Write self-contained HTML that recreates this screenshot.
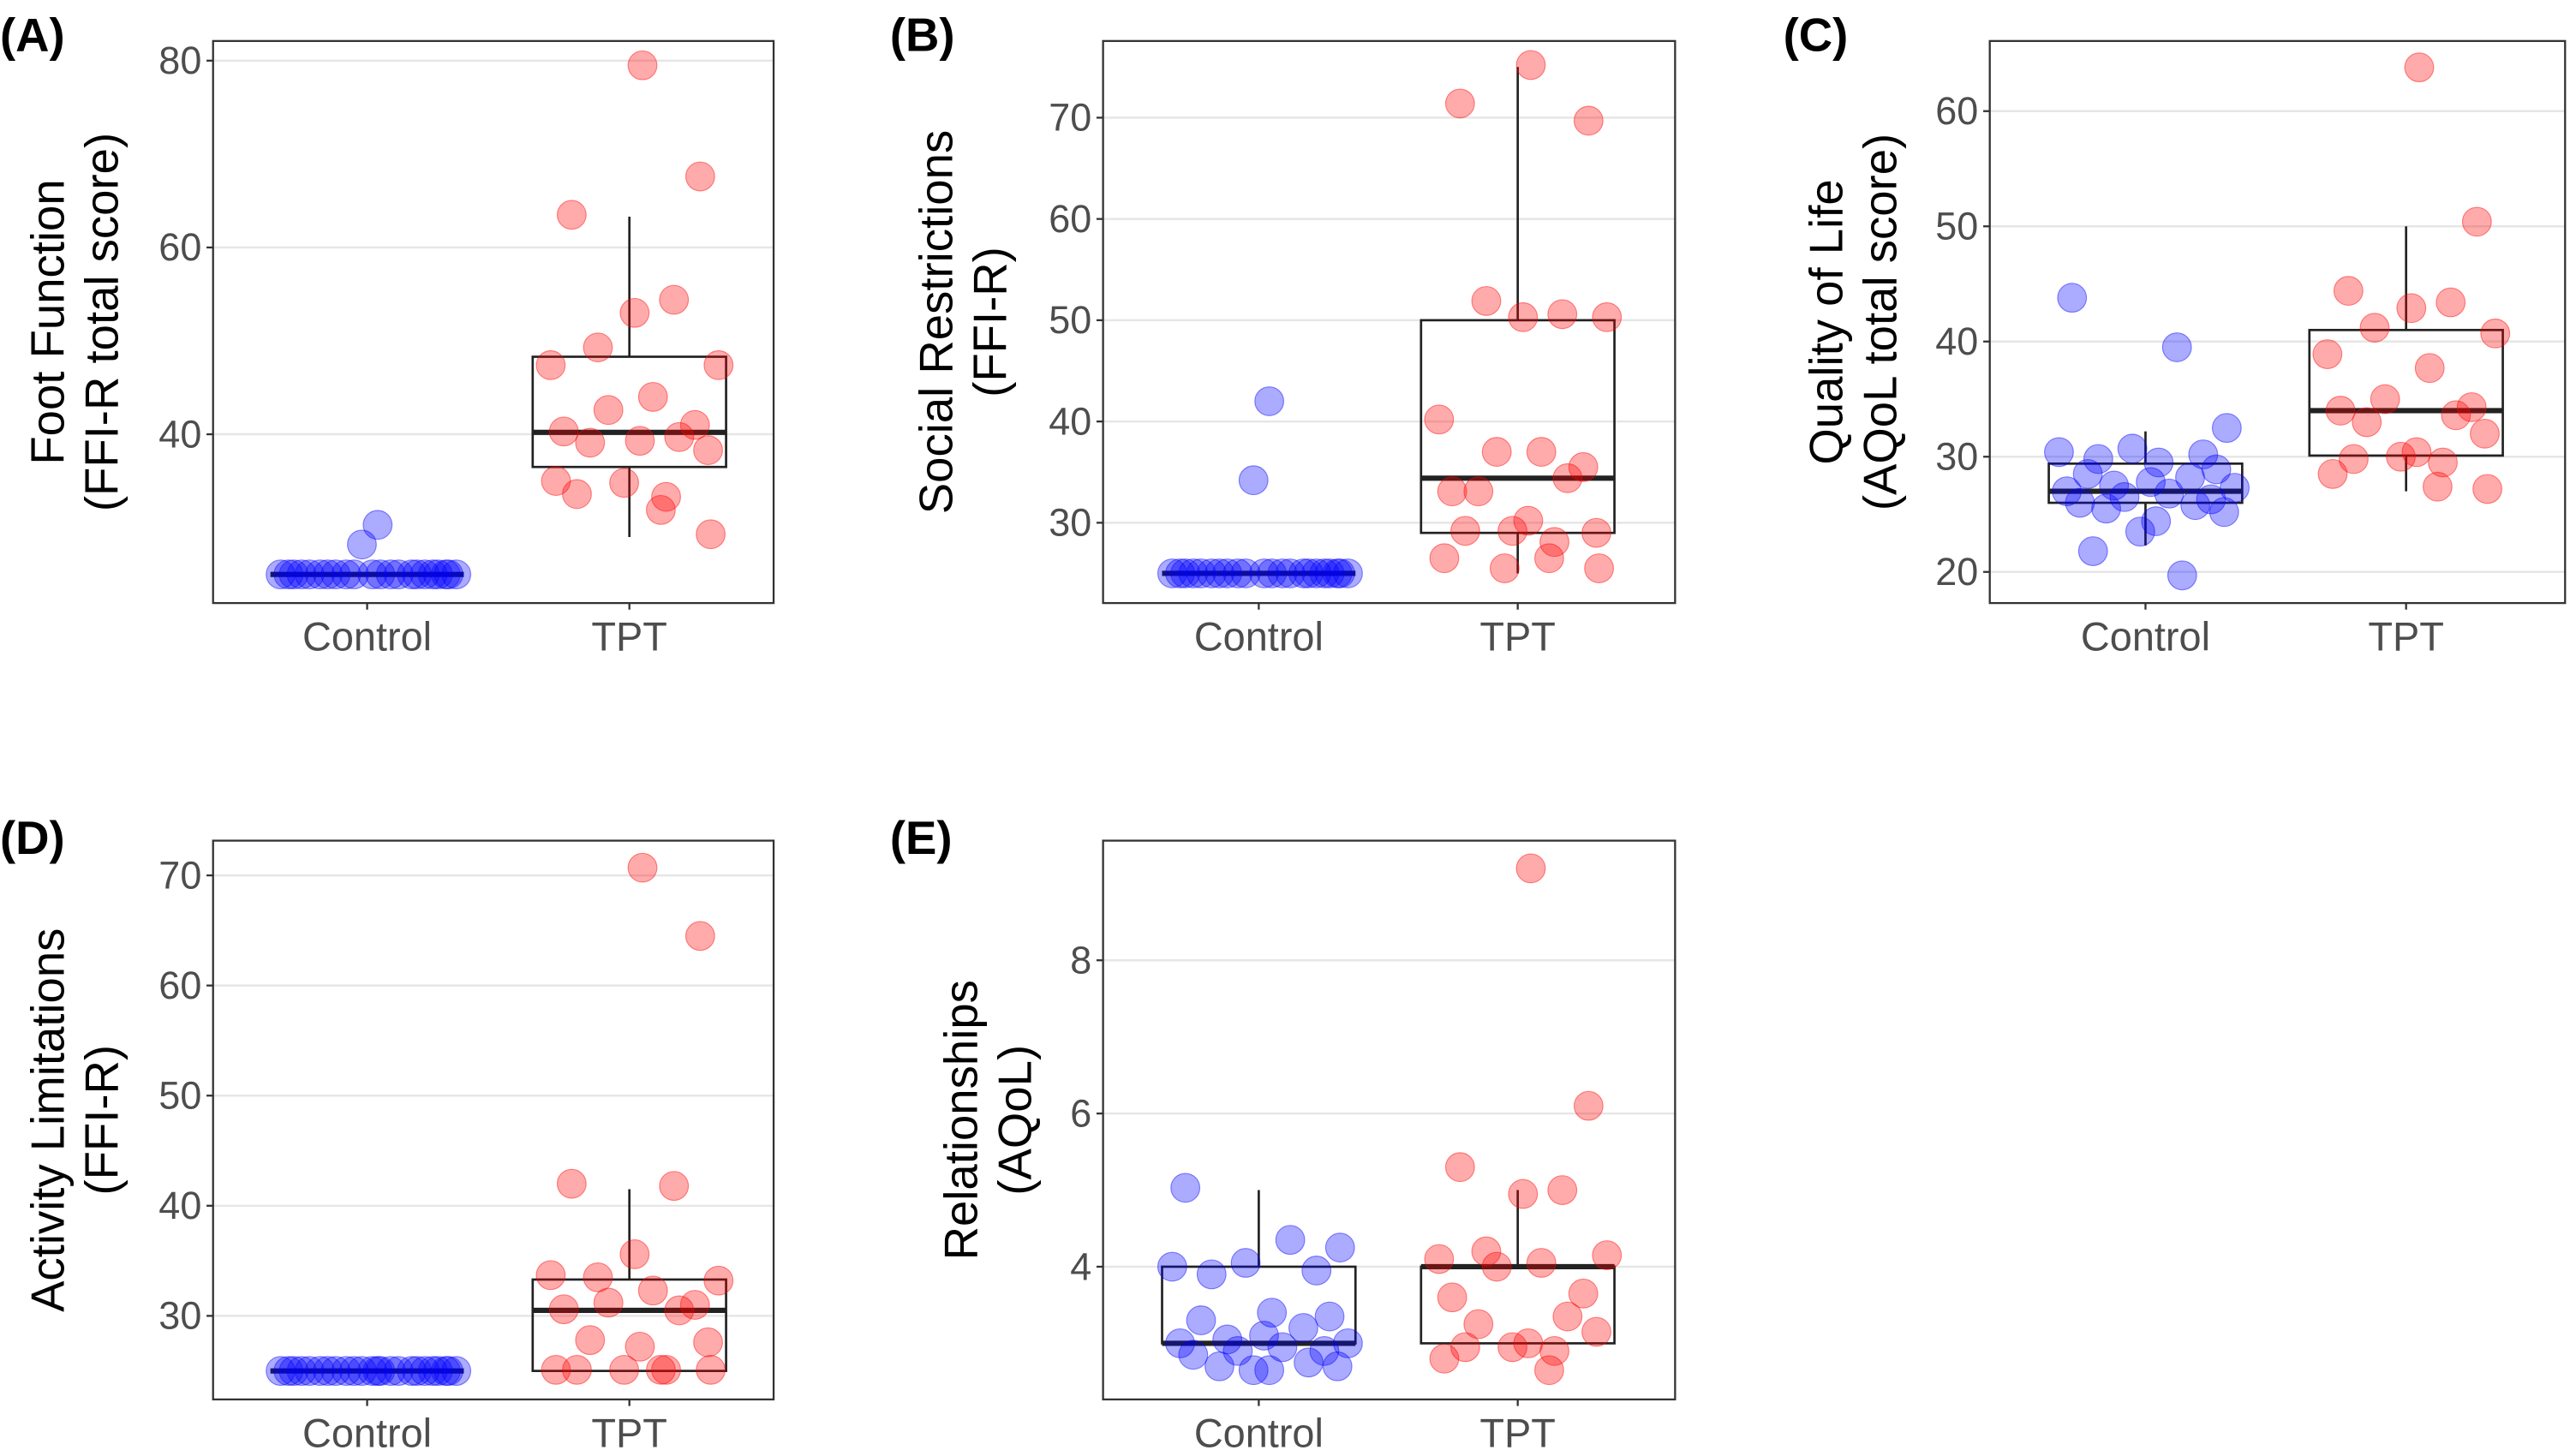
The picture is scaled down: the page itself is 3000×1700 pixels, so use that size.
<!DOCTYPE html>
<html><head><meta charset="utf-8">
<style>
html,body{margin:0;padding:0;background:#fff;}
svg{display:block;}
text{font-family:"Liberation Sans",Arial,sans-serif;}
</style></head>
<body>
<svg id="fig" width="3000" height="1700" viewBox="0 0 1568 888.5" xmlns="http://www.w3.org/2000/svg"></svg>
<script>
// ---------- data ----------
const categories = ["Control", "TPT"];

const aTicks = [40, 60, 80];
const aControl = [25,25,25,25,25,25,25,25,25,25,25,25,25,25,25,25,25,25,25,25,25,25,30.3,28.2];
const aTPT = [79.5,67.6,63.5,54.4,53,49.3,47.4,47.4,44,42.6,41,40.3,39.7,39.1,38.3,39.3,34.8,33.6,33.3,35,31.9,29.3];
const aBoxControl = [25,25,25,25,25];
const aBoxTPT = [29,36.5,40.2,48.3,63.3];

const bTicks = [30, 40, 50, 60, 70];
const bControl = [25,25,25,25,25,25,25,25,25,25,25,25,25,25,25,25,25,25,25,25,25,25,42,34.2];
const bTPT = [75.2,69.7,71.4,50.6,50.3,51.9,50.3,40.2,37,37,35.5,33.1,34.4,33.1,29,30.2,29.2,29.2,28.1,26.5,26.5,25.5,25.5];
const bBoxControl = [25,25,25,25,25];
const bBoxTPT = [25,29,34.4,50,75];

const cTicks = [20, 30, 40, 50, 60];
const cControl = [43.8,39.5,32.5,30.7,30.4,30.2,29.8,29.5,28.9,28.5,28.2,27.8,27.5,27.3,27,26.8,26.5,26.3,26,25.8,25.5,25.2,24.4,23.5,21.8,19.7];
const cTPT = [63.8,50.4,44.4,43.4,42.9,41.2,40.7,38.9,37.7,35,34.3,34,33.6,33,32,30.4,30,29.8,29.5,28.5,27.4,27.2];
const cBoxControl = [22.3,26,27,29.4,32.2];
const cBoxTPT = [27,30.1,34,41,50];

const dTicks = [30, 40, 50, 60, 70];
const dControl = [25,25,25,25,25,25,25,25,25,25,25,25,25,25,25,25,25,25,25,25,25,25,25,25];
const dTPT = [70.7,64.5,42,41.8,35.6,33.5,33.2,33.7,32.3,31.2,31,30.6,30.5,27.8,27.6,27.2,25.1,25.1,25.1,25.1,25.1,25.1];
const dBoxControl = [25,25,25,25,25];
const dBoxTPT = [25,25,30.5,33.3,41.5];

const eTicks = [4, 6, 8];
const eControl = [5.03,4.35,4.25,4.05,4.0,3.95,3.9,3.4,3.35,3.3,3.2,3.1,3.05,3.0,3.0,2.95,2.9,2.9,2.85,2.75,2.7,2.7,2.65,2.65];
const eTPT = [9.2,6.1,5.3,5.0,4.95,4.2,4.15,4.1,4.05,4.0,3.65,3.6,3.35,3.25,3.15,3.0,2.95,2.95,2.9,2.8,2.65];
const eBoxControl = [3,3,3,4,5];
const eBoxTPT = [3,3,4,4,5];

// jitter offsets in category-width units
const jitter = [-0.28,0.12,0.31,-0.05,-0.33,0.22,-0.18,0.05,0.27,-0.22,0.17,0.02,-0.12,0.34,-0.3,0.09,-0.08,0.25,-0.25,0.19,-0.15,0.3,0.04,-0.02,-0.2,0.14];

// ---------- drawing ----------
const NS = "http://www.w3.org/2000/svg";
const svg = document.getElementById("fig");
function mk(tag, attrs, parent){
  const e = document.createElementNS(NS, tag);
  for (const k in attrs) e.setAttribute(k, attrs[k]);
  (parent||svg).appendChild(e);
  return e;
}

function panel(p){
  const g = mk("g", {});
  
  
  const L=p.l,R=p.r,T=p.t,B=p.b;
  const y = v => p.y0 - (v - p.v0) * p.ppu;
  const x = i => p.cx[i];
  p.ticks.forEach(t=>{
    const gl = mk("line",{x1:L,x2:R,y1:y(t),y2:y(t),stroke:"#e6e6e6","stroke-width":1.3},g);
    
    
  });
  [p.boxC,p.boxT].forEach((bx,i)=>{
    const cx=x(i), hw=59;
    const bg = mk("g",{},g);
    
    
    mk("line",{x1:cx,x2:cx,y1:y(bx[0]),y2:y(bx[1]),stroke:"#222","stroke-width":1.4},bg);
    mk("line",{x1:cx,x2:cx,y1:y(bx[3]),y2:y(bx[4]),stroke:"#222","stroke-width":1.4},bg);
    mk("rect",{x:cx-hw,y:y(bx[3]),width:2*hw,height:Math.max(0,y(bx[1])-y(bx[3])),fill:"none",stroke:"#222","stroke-width":1.4},bg);
    mk("line",{x1:cx-hw,x2:cx+hw,y1:y(bx[2]),y2:y(bx[2]),stroke:"#222","stroke-width":3.2},bg);
  });
  [[p.ctrl,"rgba(0,0,255,0.33)","rgba(0,0,255,0.45)"],[p.tpt,"rgba(255,0,0,0.33)","rgba(255,0,0,0.45)"]].forEach((s,i)=>{
    s[0].forEach((v,j)=>{
      const c = mk("circle",{cx:x(i)+jitter[(j+i*7)%jitter.length]*160,cy:y(v),r:8.8,fill:s[1],stroke:s[2],"stroke-width":0.6},g);
      
      
    });
  });
  const br = mk("rect",{x:L,y:T,width:R-L,height:B-T,fill:"none",stroke:"#333","stroke-width":1.2},g);
  
  
  p.ticks.forEach(t=>{
    mk("line",{x1:L-4,x2:L,y1:y(t),y2:y(t),stroke:"#333","stroke-width":1.2},g);
    const tl = mk("text",{x:L-7,y:y(t)+8,"text-anchor":"end","font-size":23.5,fill:"#4d4d4d"},g);
    tl.textContent = t;
    
    
  });
  categories.forEach((c,i)=>{
    mk("line",{x1:x(i),x2:x(i),y1:B,y2:B+4,stroke:"#333","stroke-width":1.2},g);
    const tl = mk("text",{x:x(i),y:B+29,"text-anchor":"middle","font-size":24.5,fill:"#4d4d4d"},g);
    tl.textContent = c;
    
    
  });
  const cy=(T+B)/2;
  const yt = mk("text",{transform:`translate(${p.tx},${cy}) rotate(-90)`,"text-anchor":"middle","font-size":28.5,fill:"#000"},g);
  
  
  p.title.forEach((line,k)=>{
    const ts = mk("tspan",{x:0,y:k*33},yt);
    ts.textContent=line;
  });
  const lt = mk("text",{x:p.lx,y:p.ly,"font-size":28.5,"font-weight":"bold",fill:"#000"},g);
  lt.textContent = p.letter;
  
  
}

panel({id:"a",letter:"(A)",lx:0,ly:31,l:130,r:472,t:25,b:368,cx:[224,384],y0:265,v0:40,ppu:5.7,ticks:aTicks,ctrl:aControl,tpt:aTPT,boxC:aBoxControl,boxT:aBoxTPT,title:["Foot Function","(FFI-R total score)"],tx:39});
panel({id:"b",letter:"(B)",lx:543,ly:31,l:673,r:1022,t:25,b:368,cx:[768,926],y0:319,v0:30,ppu:6.18,ticks:bTicks,ctrl:bControl,tpt:bTPT,boxC:bBoxControl,boxT:bBoxTPT,title:["Social Restrictions","(FFI-R)"],tx:581});
panel({id:"c",letter:"(C)",lx:1088,ly:31,l:1214,r:1565,t:25,b:368,cx:[1309,1468],y0:349,v0:20,ppu:7.03,ticks:cTicks,ctrl:cControl,tpt:cTPT,boxC:cBoxControl,boxT:cBoxTPT,title:["Quality of Life","(AQoL total score)"],tx:1124});
panel({id:"d",letter:"(D)",lx:0,ly:521,l:130,r:472,t:513,b:854,cx:[224,384],y0:803,v0:30,ppu:6.72,ticks:dTicks,ctrl:dControl,tpt:dTPT,boxC:dBoxControl,boxT:dBoxTPT,title:["Activity Limitations","(FFI-R)"],tx:39});
panel({id:"e",letter:"(E)",lx:543,ly:521,l:673,r:1022,t:513,b:854,cx:[768,926],y0:773,v0:4,ppu:46.75,ticks:eTicks,ctrl:eControl,tpt:eTPT,boxC:eBoxControl,boxT:eBoxTPT,title:["Relationships","(AQoL)"],tx:596});
</script>
</body></html>
